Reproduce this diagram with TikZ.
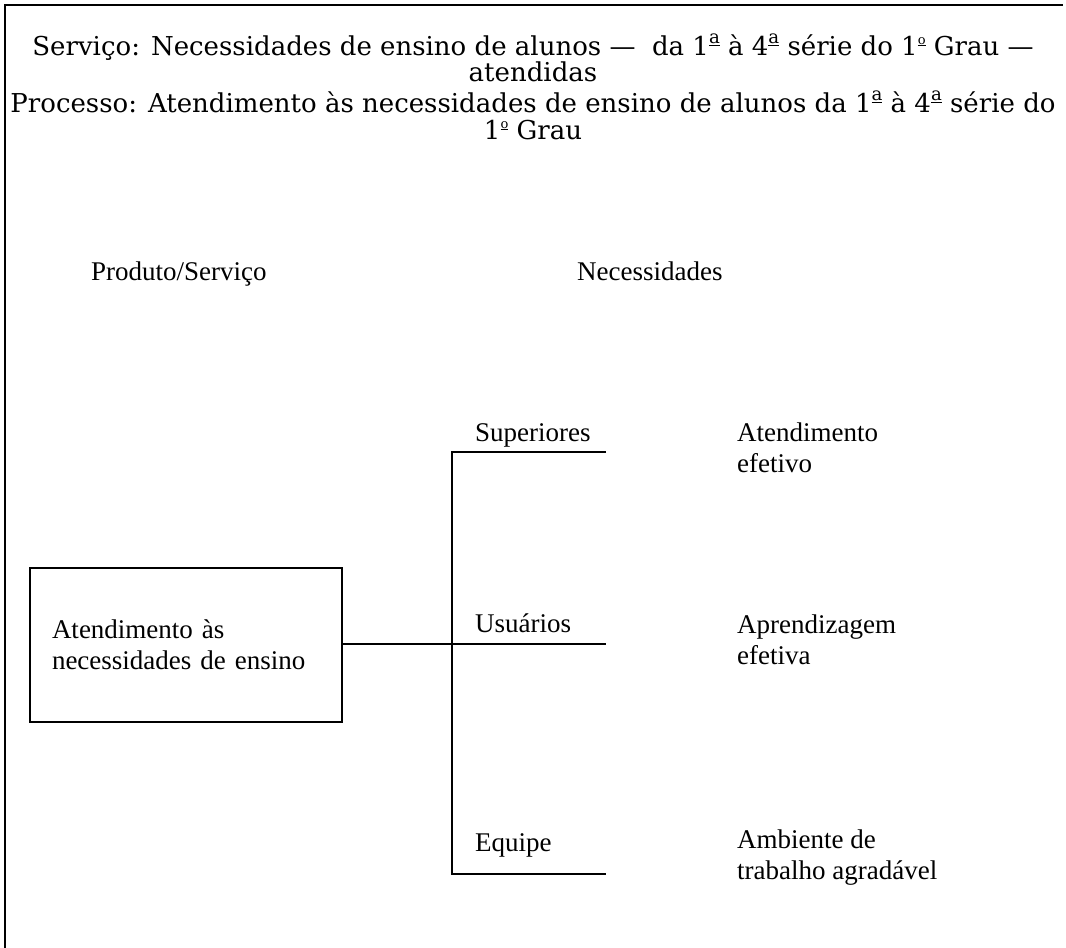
\documentclass[tikz,border=0pt]{standalone}
\usepackage{fontspec}
\setmainfont{Liberation Serif}
\newfontfamily\titlefont{DejaVu Serif}
\newcommand\orda{\raisebox{0.85ex}{\scalebox{0.7}{\underline{a}}}}
\newcommand\ordo{\raisebox{0.8ex}{\scalebox{0.5}{\underline{o}}}}
\begin{document}
\begin{tikzpicture}[x=1pt,y=-1pt,
  ln/.style={line width=2.8pt},
  title/.style={font=\titlefont\fontsize{26}{24.5}\selectfont, inner sep=0pt, align=center, anchor=base},
  body/.style={font=\fontsize{27}{31}\selectfont, inner sep=0pt, align=left},
  boxnode/.style={draw, line width=2.8pt, minimum width=312pt, minimum height=154pt,
    text width=268pt, inner xsep=22pt, align=left, font=\fontsize{27}{31}\selectfont}]
\useasboundingbox (0,0) rectangle (1066,948);
% frame (top and left edges)
\coordinate (fl) at (5,948);
\coordinate (ft) at (5,5);
\coordinate (fr) at (1063,5);
\draw[ln] (fl) -- (ft) -- (fr);
% title
\node[title] (title) at (533,139) {Serviço: Necessidades de ensino de alunos —\ \ da 1\orda{} à 4\orda{} série do 1\ordo{} Grau —\\atendidas\\[6.5pt]Processo: Atendimento às necessidades de ensino de alunos da 1\orda{} à 4\orda{} série do\\[2.5pt]1\ordo{} Grau};
% column headers
\node[body, anchor=base west] (h1) at (91,280) {Produto/Serviço};
\node[body, anchor=base west] (h2) at (577,280) {Necessidades};
% box
\node[boxnode] (box) at (186,645) {Atendimento às\\necessidades de ensino};
% tree
\coordinate (top) at (452,452);
\coordinate (topend) at (606,452);
\coordinate (mid) at (452,644);
\coordinate (midend) at (606,644);
\coordinate (bot) at (452,874);
\coordinate (botend) at (606,874);
\draw[ln] (topend) -- (top) -- (bot) -- (botend);
\draw[ln] (box.east |- mid) -- (midend);
% branch labels
\node[body, anchor=base west] (l1) at (475,441) {Superiores};
\node[body, anchor=base west] (l2) at (475,632) {Usuários};
\node[body, anchor=base west] (l3) at (475,851) {Equipe};
% needs
\node[body, anchor=west] (n1) at (737,448) {Atendimento\\efetivo};
\node[body, anchor=west] (n2) at (737,640) {Aprendizagem\\efetiva};
\node[body, anchor=west] (n3) at (737,858) {Ambiente de\\trabalho agradável};
\end{tikzpicture}
\end{document}
